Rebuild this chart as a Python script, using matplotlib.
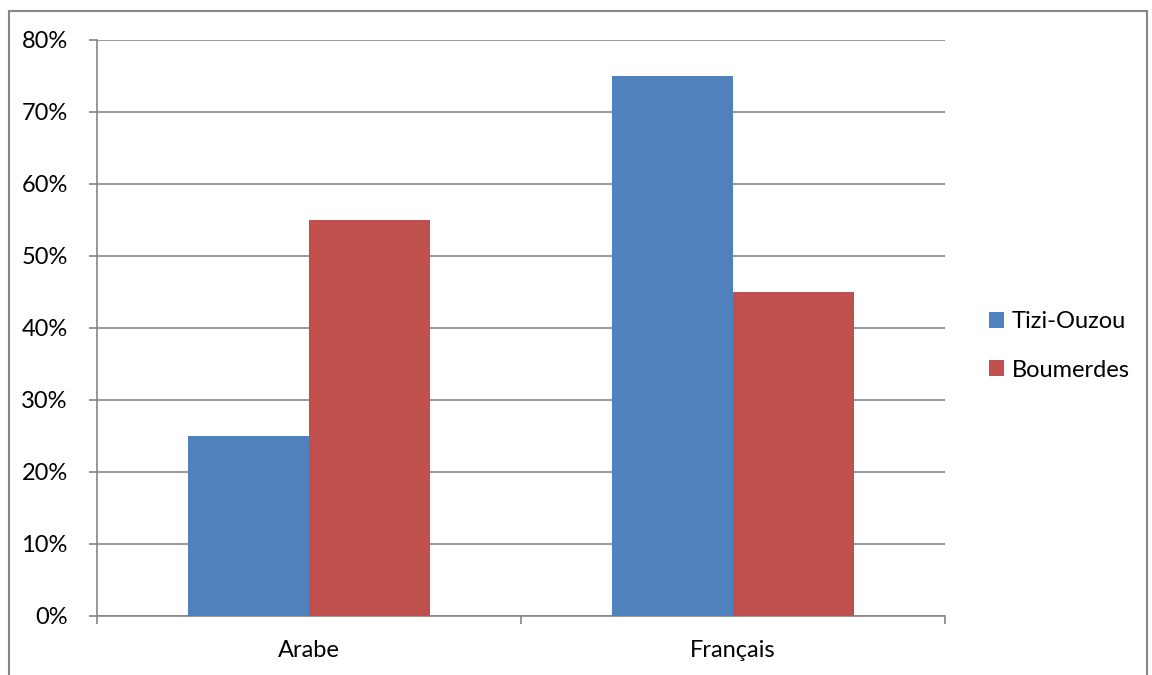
import matplotlib
matplotlib.use("Agg")
import matplotlib.pyplot as plt
from matplotlib.patches import Rectangle
import numpy as np

plt.rcParams["font.family"] = ["Lato", "DejaVu Sans"]

categories = ["Arabe", "Français"]
tizi_ouzou = [25, 75]
boumerdes = [55, 45]
yticks = [0, 10, 20, 30, 40, 50, 60, 70, 80]

blue = "#4F81BD"
red = "#C0504D"
gray = "#868686"
fs = 17

fig = plt.figure(figsize=(11.52, 6.75), dpi=100)
ax = fig.add_axes([97 / 1152, 1 - 616 / 675, 848 / 1152, 576 / 675])

x = np.arange(len(categories))
w = 0.285
ax.bar(x - w / 2, tizi_ouzou, w, color=blue, label="Tizi-Ouzou", zorder=3)
ax.bar(x + w / 2, boumerdes, w, color=red, label="Boumerdes", zorder=3)

ax.set_xlim(-0.5, len(categories) - 0.5)
ax.set_ylim(0, 80)
ax.set_yticks(yticks)
ax.set_yticklabels([f"{v}%" for v in yticks])
ax.set_xticks(x)
ax.set_xticklabels(categories)
ax.set_xticks([-0.5, 0.5, 1.5], minor=True)
ax.tick_params(axis="x", which="major", length=0, pad=17)
ax.tick_params(axis="x", which="minor", length=6, color=gray, width=1.2)
ax.tick_params(axis="y", length=6, color=gray, width=1.2, pad=15)
ax.tick_params(labelsize=fs)

ax.grid(axis="y", color=gray, linewidth=1.2, zorder=0)
for s in ["top", "right"]:
    ax.spines[s].set_visible(False)
for s in ["left", "bottom"]:
    ax.spines[s].set_color(gray)
    ax.spines[s].set_linewidth(1.2)

ax.legend(loc="center left", bbox_to_anchor=((989 - 97) / 848, (616 - 346) / 576),
          frameon=False, borderaxespad=0, borderpad=0,
          fontsize=fs, handlelength=0.65, handleheight=0.65,
          handletextpad=0.3, labelspacing=1.15)

# chart border
fig.patches.append(Rectangle((9 / 1152, -0.01), 1138 / 1152, 1 - 11 / 675 + 0.01,
                             transform=fig.transFigure, fill=False,
                             edgecolor=gray, linewidth=1.5))

fig.savefig("out.png", dpi=100)
